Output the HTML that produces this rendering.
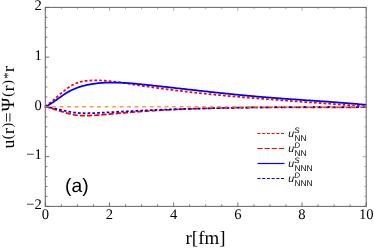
<!DOCTYPE html>
<html><head><meta charset="utf-8"><style>
html,body{margin:0;padding:0;background:#fff;}
svg{display:block}
text{font-family:"Liberation Serif",serif;fill:#000;text-rendering:geometricPrecision}
.tk text{font-size:14.6px}
.lu{font-family:"Liberation Sans",sans-serif;font-style:italic;font-size:10.5px}
.ls{font-family:"Liberation Sans",sans-serif;font-style:italic;font-size:8px}
.lb{font-family:"Liberation Sans",sans-serif;font-size:8.4px}
</style></head><body>
<svg style="will-change:transform" width="374" height="249" viewBox="0 0 374 249">

<g fill="none" stroke-width="1.75" stroke-linecap="butt" stroke-linejoin="round">
<path d="M45.0,106.60 L46.6,105.51 L48.2,104.32 L49.8,103.06 L51.5,101.73 L53.1,100.35 L54.7,98.94 L56.3,97.51 L57.9,96.07 L59.5,94.65 L61.2,93.25 L62.8,91.89 L64.4,90.58 L66.0,89.32 L67.6,88.14 L69.2,87.03 L70.8,86.01 L72.5,85.09 L74.1,84.26 L75.7,83.53 L77.3,82.89 L78.9,82.34 L80.5,81.87 L82.1,81.49 L83.8,81.18 L85.4,80.95 L87.0,80.76 L88.6,80.63 L90.2,80.52 L91.8,80.45 L93.5,80.40 L95.1,80.37 L96.7,80.37 L98.3,80.39 L99.9,80.44 L101.5,80.50 L103.1,80.59 L104.8,80.69 L106.4,80.81 L108.0,80.95 L109.6,81.10 L111.2,81.27 L112.8,81.45 L114.4,81.65 L116.1,81.85 L117.7,82.07 L119.3,82.29 L120.9,82.52 L122.5,82.76 L124.1,83.00 L125.8,83.25 L127.4,83.50 L129.0,83.76 L130.6,84.01 L132.2,84.27 L133.8,84.53 L135.4,84.78 L137.1,85.03 L138.7,85.28 L140.3,85.53 L141.9,85.77 L143.5,86.01 L145.1,86.25 L146.7,86.49 L148.4,86.72 L150.0,86.96 L151.6,87.19 L153.2,87.41 L154.8,87.64 L156.4,87.86 L158.1,88.08 L159.7,88.30 L161.3,88.52 L162.9,88.74 L164.5,88.95 L166.1,89.16 L167.7,89.37 L169.4,89.57 L171.0,89.78 L172.6,89.98 L174.2,90.18 L175.8,90.38 L177.4,90.58 L179.1,90.77 L180.7,90.97 L182.3,91.16 L183.9,91.35 L185.5,91.54 L187.1,91.72 L188.7,91.91 L190.4,92.09 L192.0,92.27 L193.6,92.45 L195.2,92.63 L196.8,92.80 L198.4,92.98 L200.0,93.15 L201.7,93.32 L203.3,93.49 L204.9,93.66 L206.5,93.83 L208.1,93.99 L209.7,94.15 L211.4,94.32 L213.0,94.48 L214.6,94.64 L216.2,94.79 L217.8,94.95 L219.4,95.11 L221.0,95.26 L222.7,95.41 L224.3,95.56 L225.9,95.71 L227.5,95.86 L229.1,96.01 L230.7,96.16 L232.3,96.30 L234.0,96.45 L235.6,96.59 L237.2,96.73 L238.8,96.87 L240.4,97.01 L242.0,97.15 L243.7,97.29 L245.3,97.43 L246.9,97.56 L248.5,97.70 L250.1,97.83 L251.7,97.97 L253.3,98.10 L255.0,98.23 L256.6,98.36 L258.2,98.49 L259.8,98.62 L261.4,98.75 L263.0,98.87 L264.7,99.00 L266.3,99.13 L267.9,99.25 L269.5,99.38 L271.1,99.50 L272.7,99.63 L274.3,99.75 L276.0,99.87 L277.6,99.99 L279.2,100.12 L280.8,100.24 L282.4,100.36 L284.0,100.48 L285.6,100.60 L287.3,100.72 L288.9,100.83 L290.5,100.95 L292.1,101.07 L293.7,101.19 L295.3,101.31 L297.0,101.42 L298.6,101.54 L300.2,101.66 L301.8,101.77 L303.4,101.89 L305.0,102.01 L306.6,102.12 L308.3,102.24 L309.9,102.35 L311.5,102.47 L313.1,102.59 L314.7,102.70 L316.3,102.82 L317.9,102.93 L319.6,103.05 L321.2,103.16 L322.8,103.28 L324.4,103.40 L326.0,103.51 L327.6,103.63 L329.3,103.74 L330.9,103.86 L332.5,103.98 L334.1,104.09 L335.7,104.21 L337.3,104.33 L338.9,104.45 L340.6,104.56 L342.2,104.68 L343.8,104.80 L345.4,104.92 L347.0,105.04 L348.6,105.16 L350.2,105.28 L351.9,105.40 L353.5,105.52 L355.1,105.65 L356.7,105.77 L358.3,105.89 L359.9,106.01 L361.6,106.14 L363.2,106.26 L364.8,106.39 L366.4,106.52" stroke="#ff0000" stroke-dasharray="2.7 2.1"/>
<path d="M45.0,106.60 L46.6,106.98 L48.2,107.40 L49.8,107.85 L51.5,108.32 L53.1,108.81 L54.7,109.31 L56.3,109.82 L57.9,110.34 L59.5,110.86 L61.2,111.38 L62.8,111.88 L64.4,112.37 L66.0,112.85 L67.6,113.30 L69.2,113.72 L70.8,114.11 L72.5,114.46 L74.1,114.77 L75.7,115.04 L77.3,115.25 L78.9,115.42 L80.5,115.54 L82.1,115.62 L83.8,115.66 L85.4,115.66 L87.0,115.64 L88.6,115.60 L90.2,115.53 L91.8,115.45 L93.5,115.35 L95.1,115.25 L96.7,115.13 L98.3,115.02 L99.9,114.90 L101.5,114.77 L103.1,114.64 L104.8,114.51 L106.4,114.37 L108.0,114.24 L109.6,114.10 L111.2,113.96 L112.8,113.81 L114.4,113.67 L116.1,113.53 L117.7,113.38 L119.3,113.24 L120.9,113.10 L122.5,112.96 L124.1,112.82 L125.8,112.68 L127.4,112.55 L129.0,112.42 L130.6,112.29 L132.2,112.16 L133.8,112.03 L135.4,111.91 L137.1,111.79 L138.7,111.67 L140.3,111.55 L141.9,111.44 L143.5,111.33 L145.1,111.21 L146.7,111.11 L148.4,111.00 L150.0,110.89 L151.6,110.79 L153.2,110.69 L154.8,110.59 L156.4,110.50 L158.1,110.40 L159.7,110.31 L161.3,110.22 L162.9,110.13 L164.5,110.04 L166.1,109.95 L167.7,109.87 L169.4,109.79 L171.0,109.71 L172.6,109.63 L174.2,109.55 L175.8,109.48 L177.4,109.40 L179.1,109.33 L180.7,109.26 L182.3,109.19 L183.9,109.13 L185.5,109.06 L187.1,109.00 L188.7,108.93 L190.4,108.87 L192.0,108.81 L193.6,108.76 L195.2,108.70 L196.8,108.65 L198.4,108.59 L200.0,108.54 L201.7,108.49 L203.3,108.44 L204.9,108.39 L206.5,108.35 L208.1,108.30 L209.7,108.26 L211.4,108.21 L213.0,108.17 L214.6,108.13 L216.2,108.09 L217.8,108.06 L219.4,108.02 L221.0,107.98 L222.7,107.95 L224.3,107.92 L225.9,107.88 L227.5,107.85 L229.1,107.82 L230.7,107.79 L232.3,107.77 L234.0,107.74 L235.6,107.71 L237.2,107.69 L238.8,107.67 L240.4,107.64 L242.0,107.62 L243.7,107.60 L245.3,107.58 L246.9,107.56 L248.5,107.54 L250.1,107.52 L251.7,107.51 L253.3,107.49 L255.0,107.48 L256.6,107.46 L258.2,107.45 L259.8,107.44 L261.4,107.42 L263.0,107.41 L264.7,107.40 L266.3,107.39 L267.9,107.38 L269.5,107.37 L271.1,107.36 L272.7,107.36 L274.3,107.35 L276.0,107.34 L277.6,107.33 L279.2,107.33 L280.8,107.32 L282.4,107.32 L284.0,107.31 L285.6,107.31 L287.3,107.31 L288.9,107.30 L290.5,107.30 L292.1,107.30 L293.7,107.29 L295.3,107.29 L297.0,107.29 L298.6,107.29 L300.2,107.29 L301.8,107.29 L303.4,107.29 L305.0,107.29 L306.6,107.28 L308.3,107.28 L309.9,107.28 L311.5,107.28 L313.1,107.28 L314.7,107.28 L316.3,107.28 L317.9,107.28 L319.6,107.28 L321.2,107.29 L322.8,107.29 L324.4,107.29 L326.0,107.29 L327.6,107.29 L329.3,107.29 L330.9,107.29 L332.5,107.29 L334.1,107.28 L335.7,107.28 L337.3,107.28 L338.9,107.28 L340.6,107.28 L342.2,107.28 L343.8,107.28 L345.4,107.28 L347.0,107.27 L348.6,107.27 L350.2,107.27 L351.9,107.26 L353.5,107.26 L355.1,107.26 L356.7,107.25 L358.3,107.25 L359.9,107.24 L361.6,107.24 L363.2,107.23 L364.8,107.22 L366.4,107.22" stroke="#ff0000" stroke-dasharray="5.2 2.0"/>
<path d="M45.0,106.60 L46.6,105.95 L48.2,105.17 L49.8,104.28 L51.5,103.31 L53.1,102.26 L54.7,101.15 L56.3,100.00 L57.9,98.83 L59.5,97.66 L61.2,96.49 L62.8,95.35 L64.4,94.26 L66.0,93.23 L67.6,92.26 L69.2,91.37 L70.8,90.53 L72.5,89.76 L74.1,89.04 L75.7,88.38 L77.3,87.76 L78.9,87.19 L80.5,86.66 L82.1,86.18 L83.8,85.74 L85.4,85.33 L87.0,84.96 L88.6,84.62 L90.2,84.32 L91.8,84.04 L93.5,83.79 L95.1,83.57 L96.7,83.37 L98.3,83.19 L99.9,83.04 L101.5,82.91 L103.1,82.79 L104.8,82.70 L106.4,82.63 L108.0,82.57 L109.6,82.53 L111.2,82.51 L112.8,82.51 L114.4,82.52 L116.1,82.54 L117.7,82.58 L119.3,82.64 L120.9,82.70 L122.5,82.78 L124.1,82.87 L125.8,82.97 L127.4,83.08 L129.0,83.20 L130.6,83.32 L132.2,83.46 L133.8,83.60 L135.4,83.74 L137.1,83.90 L138.7,84.05 L140.3,84.22 L141.9,84.38 L143.5,84.55 L145.1,84.72 L146.7,84.89 L148.4,85.06 L150.0,85.23 L151.6,85.40 L153.2,85.57 L154.8,85.75 L156.4,85.92 L158.1,86.10 L159.7,86.28 L161.3,86.45 L162.9,86.63 L164.5,86.81 L166.1,86.99 L167.7,87.17 L169.4,87.35 L171.0,87.53 L172.6,87.71 L174.2,87.89 L175.8,88.07 L177.4,88.25 L179.1,88.43 L180.7,88.61 L182.3,88.79 L183.9,88.97 L185.5,89.15 L187.1,89.33 L188.7,89.52 L190.4,89.70 L192.0,89.88 L193.6,90.06 L195.2,90.24 L196.8,90.42 L198.4,90.60 L200.0,90.78 L201.7,90.96 L203.3,91.13 L204.9,91.31 L206.5,91.49 L208.1,91.67 L209.7,91.84 L211.4,92.02 L213.0,92.19 L214.6,92.37 L216.2,92.54 L217.8,92.71 L219.4,92.89 L221.0,93.06 L222.7,93.23 L224.3,93.40 L225.9,93.56 L227.5,93.73 L229.1,93.90 L230.7,94.06 L232.3,94.22 L234.0,94.39 L235.6,94.55 L237.2,94.71 L238.8,94.87 L240.4,95.02 L242.0,95.18 L243.7,95.33 L245.3,95.48 L246.9,95.64 L248.5,95.79 L250.1,95.93 L251.7,96.08 L253.3,96.22 L255.0,96.37 L256.6,96.51 L258.2,96.65 L259.8,96.78 L261.4,96.92 L263.0,97.05 L264.7,97.19 L266.3,97.32 L267.9,97.45 L269.5,97.57 L271.1,97.70 L272.7,97.83 L274.3,97.95 L276.0,98.07 L277.6,98.19 L279.2,98.32 L280.8,98.43 L282.4,98.55 L284.0,98.67 L285.6,98.79 L287.3,98.90 L288.9,99.02 L290.5,99.14 L292.1,99.25 L293.7,99.36 L295.3,99.48 L297.0,99.59 L298.6,99.70 L300.2,99.81 L301.8,99.93 L303.4,100.04 L305.0,100.15 L306.6,100.26 L308.3,100.37 L309.9,100.48 L311.5,100.59 L313.1,100.71 L314.7,100.82 L316.3,100.93 L317.9,101.04 L319.6,101.15 L321.2,101.27 L322.8,101.38 L324.4,101.49 L326.0,101.61 L327.6,101.72 L329.3,101.84 L330.9,101.96 L332.5,102.07 L334.1,102.19 L335.7,102.31 L337.3,102.43 L338.9,102.55 L340.6,102.68 L342.2,102.80 L343.8,102.92 L345.4,103.05 L347.0,103.18 L348.6,103.31 L350.2,103.44 L351.9,103.57 L353.5,103.70 L355.1,103.84 L356.7,103.97 L358.3,104.11 L359.9,104.25 L361.6,104.39 L363.2,104.54 L364.8,104.68 L366.4,104.83" stroke="#0000ff"/>
<path d="M45.0,106.60 L46.6,106.86 L48.2,107.14 L49.8,107.45 L51.5,107.78 L53.1,108.12 L54.7,108.48 L56.3,108.85 L57.9,109.22 L59.5,109.60 L61.2,109.97 L62.8,110.34 L64.4,110.71 L66.0,111.06 L67.6,111.39 L69.2,111.71 L70.8,112.01 L72.5,112.28 L74.1,112.51 L75.7,112.72 L77.3,112.89 L78.9,113.02 L80.5,113.12 L82.1,113.20 L83.8,113.24 L85.4,113.26 L87.0,113.26 L88.6,113.24 L90.2,113.21 L91.8,113.16 L93.5,113.10 L95.1,113.04 L96.7,112.97 L98.3,112.90 L99.9,112.82 L101.5,112.74 L103.1,112.66 L104.8,112.57 L106.4,112.48 L108.0,112.39 L109.6,112.30 L111.2,112.21 L112.8,112.11 L114.4,112.02 L116.1,111.92 L117.7,111.83 L119.3,111.73 L120.9,111.64 L122.5,111.54 L124.1,111.45 L125.8,111.36 L127.4,111.27 L129.0,111.18 L130.6,111.10 L132.2,111.01 L133.8,110.93 L135.4,110.85 L137.1,110.77 L138.7,110.69 L140.3,110.61 L141.9,110.54 L143.5,110.46 L145.1,110.39 L146.7,110.32 L148.4,110.25 L150.0,110.18 L151.6,110.11 L153.2,110.04 L154.8,109.98 L156.4,109.91 L158.1,109.85 L159.7,109.79 L161.3,109.73 L162.9,109.67 L164.5,109.61 L166.1,109.55 L167.7,109.49 L169.4,109.44 L171.0,109.38 L172.6,109.33 L174.2,109.28 L175.8,109.22 L177.4,109.17 L179.1,109.12 L180.7,109.07 L182.3,109.02 L183.9,108.98 L185.5,108.93 L187.1,108.88 L188.7,108.84 L190.4,108.79 L192.0,108.75 L193.6,108.70 L195.2,108.66 L196.8,108.61 L198.4,108.57 L200.0,108.53 L201.7,108.49 L203.3,108.45 L204.9,108.41 L206.5,108.37 L208.1,108.33 L209.7,108.29 L211.4,108.25 L213.0,108.21 L214.6,108.18 L216.2,108.14 L217.8,108.10 L219.4,108.07 L221.0,108.03 L222.7,108.00 L224.3,107.97 L225.9,107.93 L227.5,107.90 L229.1,107.87 L230.7,107.84 L232.3,107.80 L234.0,107.77 L235.6,107.74 L237.2,107.71 L238.8,107.69 L240.4,107.66 L242.0,107.63 L243.7,107.60 L245.3,107.58 L246.9,107.55 L248.5,107.52 L250.1,107.50 L251.7,107.47 L253.3,107.45 L255.0,107.43 L256.6,107.40 L258.2,107.38 L259.8,107.36 L261.4,107.34 L263.0,107.32 L264.7,107.30 L266.3,107.28 L267.9,107.26 L269.5,107.24 L271.1,107.23 L272.7,107.21 L274.3,107.19 L276.0,107.18 L277.6,107.16 L279.2,107.15 L280.8,107.13 L282.4,107.12 L284.0,107.11 L285.6,107.09 L287.3,107.08 L288.9,107.07 L290.5,107.06 L292.1,107.05 L293.7,107.04 L295.3,107.03 L297.0,107.02 L298.6,107.02 L300.2,107.01 L301.8,107.00 L303.4,107.00 L305.0,106.99 L306.6,106.99 L308.3,106.98 L309.9,106.98 L311.5,106.98 L313.1,106.97 L314.7,106.97 L316.3,106.97 L317.9,106.97 L319.6,106.97 L321.2,106.97 L322.8,106.97 L324.4,106.97 L326.0,106.98 L327.6,106.98 L329.3,106.98 L330.9,106.99 L332.5,106.99 L334.1,107.00 L335.7,107.01 L337.3,107.01 L338.9,107.02 L340.6,107.03 L342.2,107.04 L343.8,107.05 L345.4,107.06 L347.0,107.07 L348.6,107.08 L350.2,107.09 L351.9,107.10 L353.5,107.11 L355.1,107.13 L356.7,107.14 L358.3,107.16 L359.9,107.17 L361.6,107.19 L363.2,107.21 L364.8,107.22 L366.4,107.24" stroke="#0000ff" stroke-dasharray="2.7 2.1"/>
<path d="M44.7,106.8 L366.2,106.8" stroke="#ff9936" stroke-width="1.5" stroke-dasharray="3.75 3.75"/>
</g>
<g stroke="#6a6a6a" stroke-width="1.05" fill="none">
<rect x="45.3" y="7.4" width="320.9" height="199.0"/>
</g>
<g stroke="#606060" stroke-width="0.9" fill="none">
<line x1="45.30" y1="206.4" x2="45.30" y2="202.5"/><line x1="45.30" y1="7.4" x2="45.30" y2="10.91" stroke-width="0.5"/><line x1="61.34" y1="206.4" x2="61.34" y2="204.4"/><line x1="61.34" y1="7.4" x2="61.34" y2="9.200000000000001" stroke-width="0.5"/><line x1="77.39" y1="206.4" x2="77.39" y2="204.4"/><line x1="77.39" y1="7.4" x2="77.39" y2="9.200000000000001" stroke-width="0.5"/><line x1="93.44" y1="206.4" x2="93.44" y2="204.4"/><line x1="93.44" y1="7.4" x2="93.44" y2="9.200000000000001" stroke-width="0.5"/><line x1="109.48" y1="206.4" x2="109.48" y2="202.5"/><line x1="109.48" y1="7.4" x2="109.48" y2="10.91" stroke-width="0.5"/><line x1="125.52" y1="206.4" x2="125.52" y2="204.4"/><line x1="125.52" y1="7.4" x2="125.52" y2="9.200000000000001" stroke-width="0.5"/><line x1="141.57" y1="206.4" x2="141.57" y2="204.4"/><line x1="141.57" y1="7.4" x2="141.57" y2="9.200000000000001" stroke-width="0.5"/><line x1="157.61" y1="206.4" x2="157.61" y2="204.4"/><line x1="157.61" y1="7.4" x2="157.61" y2="9.200000000000001" stroke-width="0.5"/><line x1="173.66" y1="206.4" x2="173.66" y2="202.5"/><line x1="173.66" y1="7.4" x2="173.66" y2="10.91" stroke-width="0.5"/><line x1="189.70" y1="206.4" x2="189.70" y2="204.4"/><line x1="189.70" y1="7.4" x2="189.70" y2="9.200000000000001" stroke-width="0.5"/><line x1="205.75" y1="206.4" x2="205.75" y2="204.4"/><line x1="205.75" y1="7.4" x2="205.75" y2="9.200000000000001" stroke-width="0.5"/><line x1="221.79" y1="206.4" x2="221.79" y2="204.4"/><line x1="221.79" y1="7.4" x2="221.79" y2="9.200000000000001" stroke-width="0.5"/><line x1="237.84" y1="206.4" x2="237.84" y2="202.5"/><line x1="237.84" y1="7.4" x2="237.84" y2="10.91" stroke-width="0.5"/><line x1="253.88" y1="206.4" x2="253.88" y2="204.4"/><line x1="253.88" y1="7.4" x2="253.88" y2="9.200000000000001" stroke-width="0.5"/><line x1="269.93" y1="206.4" x2="269.93" y2="204.4"/><line x1="269.93" y1="7.4" x2="269.93" y2="9.200000000000001" stroke-width="0.5"/><line x1="285.98" y1="206.4" x2="285.98" y2="204.4"/><line x1="285.98" y1="7.4" x2="285.98" y2="9.200000000000001" stroke-width="0.5"/><line x1="302.02" y1="206.4" x2="302.02" y2="202.5"/><line x1="302.02" y1="7.4" x2="302.02" y2="10.91" stroke-width="0.5"/><line x1="318.06" y1="206.4" x2="318.06" y2="204.4"/><line x1="318.06" y1="7.4" x2="318.06" y2="9.200000000000001" stroke-width="0.5"/><line x1="334.11" y1="206.4" x2="334.11" y2="204.4"/><line x1="334.11" y1="7.4" x2="334.11" y2="9.200000000000001" stroke-width="0.5"/><line x1="350.15" y1="206.4" x2="350.15" y2="204.4"/><line x1="350.15" y1="7.4" x2="350.15" y2="9.200000000000001" stroke-width="0.5"/><line x1="366.20" y1="206.4" x2="366.20" y2="202.5"/><line x1="366.20" y1="7.4" x2="366.20" y2="10.91" stroke-width="0.5"/><line x1="45.3" y1="206.40" x2="49.199999999999996" y2="206.40"/><line x1="366.2" y1="206.40" x2="362.69" y2="206.40" stroke-width="0.5"/><line x1="45.3" y1="196.45" x2="47.3" y2="196.45"/><line x1="366.2" y1="196.45" x2="364.4" y2="196.45" stroke-width="0.5"/><line x1="45.3" y1="186.50" x2="47.3" y2="186.50"/><line x1="366.2" y1="186.50" x2="364.4" y2="186.50" stroke-width="0.5"/><line x1="45.3" y1="176.55" x2="47.3" y2="176.55"/><line x1="366.2" y1="176.55" x2="364.4" y2="176.55" stroke-width="0.5"/><line x1="45.3" y1="166.60" x2="47.3" y2="166.60"/><line x1="366.2" y1="166.60" x2="364.4" y2="166.60" stroke-width="0.5"/><line x1="45.3" y1="156.65" x2="49.199999999999996" y2="156.65"/><line x1="366.2" y1="156.65" x2="362.69" y2="156.65" stroke-width="0.5"/><line x1="45.3" y1="146.70" x2="47.3" y2="146.70"/><line x1="366.2" y1="146.70" x2="364.4" y2="146.70" stroke-width="0.5"/><line x1="45.3" y1="136.75" x2="47.3" y2="136.75"/><line x1="366.2" y1="136.75" x2="364.4" y2="136.75" stroke-width="0.5"/><line x1="45.3" y1="126.80" x2="47.3" y2="126.80"/><line x1="366.2" y1="126.80" x2="364.4" y2="126.80" stroke-width="0.5"/><line x1="45.3" y1="116.85" x2="47.3" y2="116.85"/><line x1="366.2" y1="116.85" x2="364.4" y2="116.85" stroke-width="0.5"/><line x1="45.3" y1="106.90" x2="49.199999999999996" y2="106.90"/><line x1="366.2" y1="106.90" x2="362.69" y2="106.90" stroke-width="0.5"/><line x1="45.3" y1="96.95" x2="47.3" y2="96.95"/><line x1="366.2" y1="96.95" x2="364.4" y2="96.95" stroke-width="0.5"/><line x1="45.3" y1="87.00" x2="47.3" y2="87.00"/><line x1="366.2" y1="87.00" x2="364.4" y2="87.00" stroke-width="0.5"/><line x1="45.3" y1="77.05" x2="47.3" y2="77.05"/><line x1="366.2" y1="77.05" x2="364.4" y2="77.05" stroke-width="0.5"/><line x1="45.3" y1="67.10" x2="47.3" y2="67.10"/><line x1="366.2" y1="67.10" x2="364.4" y2="67.10" stroke-width="0.5"/><line x1="45.3" y1="57.15" x2="49.199999999999996" y2="57.15"/><line x1="366.2" y1="57.15" x2="362.69" y2="57.15" stroke-width="0.5"/><line x1="45.3" y1="47.20" x2="47.3" y2="47.20"/><line x1="366.2" y1="47.20" x2="364.4" y2="47.20" stroke-width="0.5"/><line x1="45.3" y1="37.25" x2="47.3" y2="37.25"/><line x1="366.2" y1="37.25" x2="364.4" y2="37.25" stroke-width="0.5"/><line x1="45.3" y1="27.30" x2="47.3" y2="27.30"/><line x1="366.2" y1="27.30" x2="364.4" y2="27.30" stroke-width="0.5"/><line x1="45.3" y1="17.35" x2="47.3" y2="17.35"/><line x1="366.2" y1="17.35" x2="364.4" y2="17.35" stroke-width="0.5"/><line x1="45.3" y1="7.40" x2="49.199999999999996" y2="7.40"/><line x1="366.2" y1="7.40" x2="362.69" y2="7.40" stroke-width="0.5"/>
</g>
<g class="tk"><text x="45.3" y="218.8" text-anchor="middle">0</text><text x="109.5" y="218.8" text-anchor="middle">2</text><text x="173.7" y="218.8" text-anchor="middle">4</text><text x="237.8" y="218.8" text-anchor="middle">6</text><text x="302.0" y="218.8" text-anchor="middle">8</text><text x="366.2" y="218.8" text-anchor="middle">10</text><text x="41.8" y="10.3" text-anchor="end">2</text><text x="41.8" y="59.9" text-anchor="end">1</text><text x="41.8" y="109.5" text-anchor="end">0</text><text x="41.8" y="159.2" text-anchor="end">−1</text><text x="41.8" y="208.8" text-anchor="end">−2</text></g>
<text x="205.5" y="243.5" text-anchor="middle" font-size="18.9">r[fm]</text>
<text transform="translate(13.9,148.6) rotate(-90)" text-anchor="start" font-size="17.5">u<tspan font-size="14.3" dx="0.55" dy="-1.9">(</tspan><tspan dx="0.55" dy="1.9">r</tspan><tspan font-size="14.3" dx="0.55" dy="-1.9">)</tspan><tspan dx="0.55" dy="1.9">=</tspan><tspan dx="1" font-size="18.6">&#936;</tspan><tspan font-size="14.3" dx="0.9" dy="-1.9">(</tspan><tspan dx="0.7" dy="1.9">r</tspan><tspan font-size="14.3" dx="0.7" dy="-1.9">)</tspan><tspan font-size="12.5" dy="-0.4" dx="1.2">*</tspan><tspan dy="2.3" dx="0.6">r</tspan></text>
<text x="65.1" y="192" style="font-family:'Liberation Sans',sans-serif;font-size:19.3px">(a)</text>
<line x1="257.5" y1="133.5" x2="284.5" y2="133.5" stroke="#ff0000" stroke-width="1.2" stroke-dasharray="3 1.7"/><text x="288.3" y="137.2" class="lu">u</text><text x="294.2" y="133.2" class="ls">S</text><text x="294.4" y="140.7" class="lb">NN</text><line x1="257.5" y1="148.5" x2="284.5" y2="148.5" stroke="#ff0000" stroke-width="1.2" stroke-dasharray="5.2 1.9"/><text x="288.3" y="152.2" class="lu">u</text><text x="294.2" y="148.2" class="ls">D</text><text x="294.4" y="155.7" class="lb">NN</text><line x1="257.5" y1="163.5" x2="284.5" y2="163.5" stroke="#0000ff" stroke-width="1.2"/><text x="288.3" y="167.2" class="lu">u</text><text x="294.2" y="163.2" class="ls">S</text><text x="294.4" y="170.7" class="lb">NNN</text><line x1="257.5" y1="178.5" x2="284.5" y2="178.5" stroke="#0000ff" stroke-width="1.2" stroke-dasharray="3 1.7"/><text x="288.3" y="182.2" class="lu">u</text><text x="294.2" y="178.2" class="ls">D</text><text x="294.4" y="185.7" class="lb">NNN</text>
</svg>
</body></html>
